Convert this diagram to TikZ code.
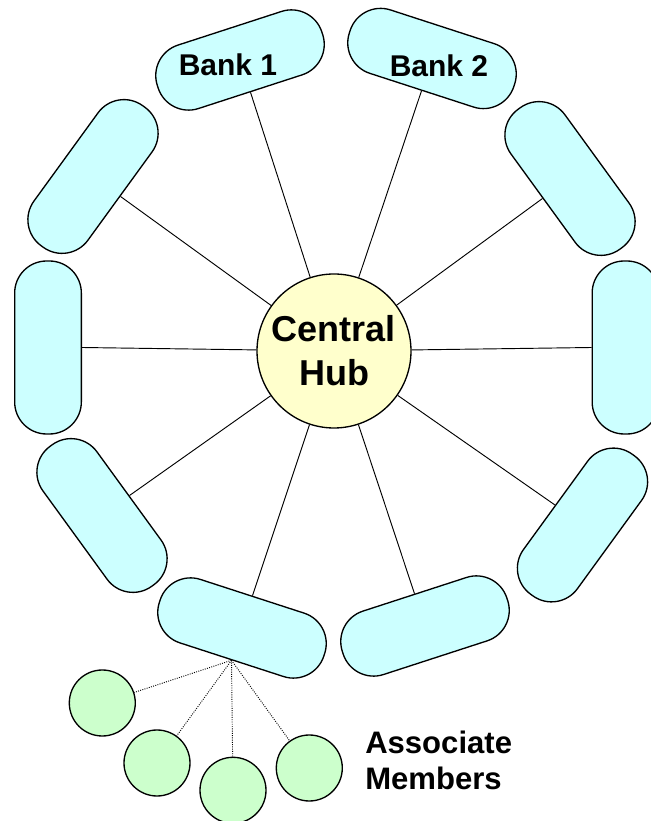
\documentclass[tikz,border=0pt]{standalone}
\usepackage{fontspec}
\setmainfont{Liberation Sans}
\definecolor{bankfill}{HTML}{CCFFFF}
\definecolor{hubfill}{HTML}{FFFFCC}
\definecolor{memberfill}{HTML}{CCFFCC}
\begin{document}
\begin{tikzpicture}[x=0.75pt, y=0.75pt,
    bank/.style={rectangle, rounded corners=24pt, draw=black, line width=1pt, fill=bankfill, minimum width=129.75pt, minimum height=50pt, inner sep=0pt},
    hubnode/.style={circle, draw=black, line width=1pt, fill=hubfill, minimum size=115.5pt, inner sep=0pt, align=center, font=\fontsize{27}{33}\selectfont\bfseries},
    member/.style={circle, draw=black, line width=1pt, fill=memberfill, minimum size=49.5pt, inner sep=0pt},
    banklabel/.style={inner sep=0pt, font=\fontsize{22.5}{26}\selectfont\bfseries}]
    \useasboundingbox (0,0) rectangle (650,821);

    %Nodes
    \node[hubnode] at (334, 470) (hub) {Central\\Hub};

    \node[bank, rotate=18] at (240, 761) (b1) {};
    \node[bank, rotate=-18] at (432, 762.5) (b2) {};
    \node[bank, rotate=-54] at (570, 642.5) (b3) {};
    \node[bank, rotate=-90] at (625.5, 473.5) (b4) {};
    \node[bank, rotate=-126] at (582.5, 296) (b5) {};
    \node[bank, rotate=-162] at (425, 195) (b6) {};
    \node[bank, rotate=162] at (242, 193) (b7) {};
    \node[bank, rotate=126] at (102, 305.5) (b8) {};
    \node[bank, rotate=90] at (48, 473.5) (b9) {};
    \node[bank, rotate=54] at (93, 644.5) (b10) {};

    \node[banklabel] at (228, 756) (t1) {Bank 1};
    \node[banklabel] at (439, 755) (t2) {Bank 2};

    \node[member] at (102.3, 118) (am1) {};
    \node[member] at (157, 58) (am2) {};
    \node[member] at (233, 30.7) (am3) {};
    \node[member] at (309.3, 53) (am4) {};

    \node[inner sep=0pt, anchor=north west, align=left, font=\fontsize{23.3}{26.5}\selectfont\bfseries] at (365, 90) (assoc) {Associate\\Members};

    %Lines
    \foreach \b in {b1, b2, b3, b4, b5, b6, b7, b8, b9, b10}
        \draw[line width=0.7pt] (hub) -- (\b.south);
    \foreach \m in {am1, am2, am3, am4}
        \draw[densely dotted, line width=0.7pt] (b7.north) -- (\m);

\end{tikzpicture}
\end{document}
